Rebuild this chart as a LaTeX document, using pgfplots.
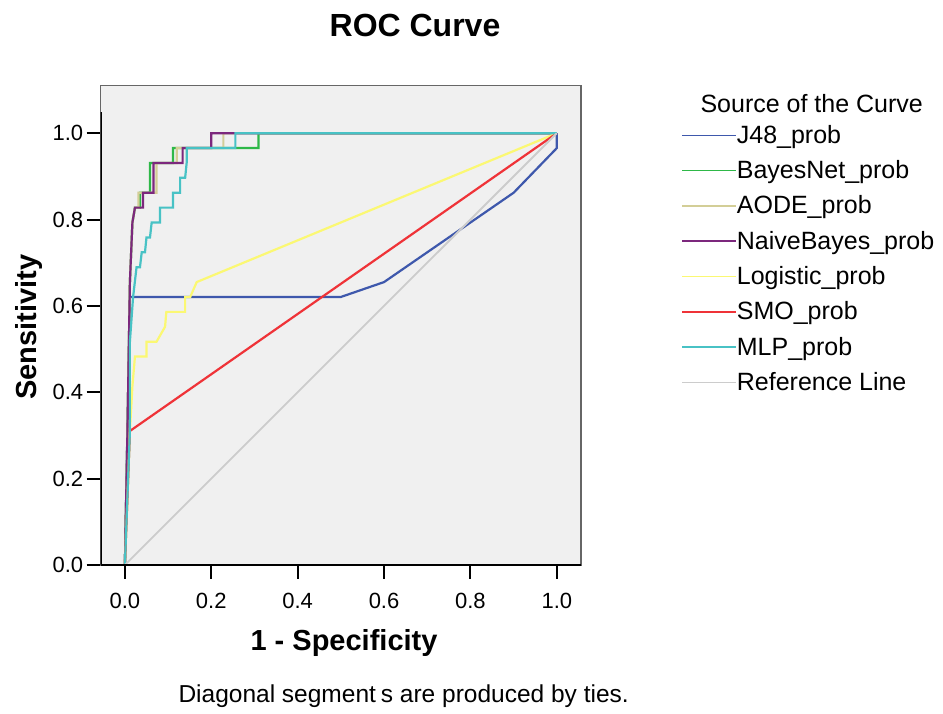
\documentclass[border=0pt]{standalone}
\usepackage{fontspec}
\usepackage{pgfplots}
\pgfplotsset{compat=1.18}
\setmainfont{Liberation Sans}

% SPSS default series colours
\definecolor{cJ}{HTML}{3E58AC}
\definecolor{cBN}{HTML}{2EB848}
\definecolor{cAO}{HTML}{D3CE97}
\definecolor{cNB}{HTML}{7C287D}
\definecolor{cLo}{HTML}{FBF873}
\definecolor{cSM}{HTML}{EF3338}
\definecolor{cML}{HTML}{48C2C5}
\definecolor{cRef}{HTML}{CCCCCC}
\definecolor{bgc}{HTML}{F0F0F0}
\definecolor{framec}{HTML}{666666}

\begin{document}
\begin{tikzpicture}
\begin{axis}[
  at={(100.7pt,148pt)}, anchor=south west,
  scale only axis, width=480.3pt, height=479.3pt,
  xmin=-0.056, xmax=1.056, ymin=0, ymax=1.11,
  axis background/.style={fill=bgc},
  axis line style={draw=framec, line width=1.6pt},
  xtick={0,0.2,0.4,0.6,0.8,1}, ytick={0,0.2,0.4,0.6,0.8,1},
  xtick pos=left, ytick pos=left,
  tick align=outside, major tick length=14pt,
  tick style={black, line width=2pt},
  tick label style={font=\fontsize{22}{22}\selectfont},
  xticklabel style={yshift=-11pt, /pgf/number format/.cd, fixed, fixed zerofill, precision=1, assume math mode=true},
  yticklabel style={/pgf/number format/.cd, fixed, fixed zerofill, precision=1, assume math mode=true},
  xlabel={1 - Specificity},
  xlabel style={at={(axis description cs:0.5066,-0.1794)}, anchor=base,
                font=\bfseries\fontsize{29}{29}\selectfont},
  ylabel={Sensitivity},
  ylabel style={at={(axis description cs:-0.1330,0.4966)}, anchor=base,
                font=\bfseries\fontsize{29}{29}\selectfont},
  legend style={at={(1.2090,0.9215)}, anchor=north west, draw=none, fill=none,
                inner xsep=0pt, inner ysep=0pt, outer sep=0pt,
                row sep=11.3pt, column sep=0pt,
                nodes={inner sep=0pt, text height=20pt, text depth=4pt,
                       font=\fontsize{25}{25}\selectfont}},
  legend cell align=left,
  legend image code/.code={\draw[#1, line width=1.5pt] (0pt,0pt) -- (54pt,0pt);},
  every axis plot/.append style={line width=2.2pt, line join=miter},
]

% J48
\addplot[cJ] coordinates {(0,0) (0.0116,0.6207) (0.5,0.6207) (0.6,0.6552) (0.9,0.8621) (1,0.9655) (1,1)};
\addlegendentry{J48\_prob}

% BayesNet
\addplot[cBN] coordinates {(0,0) (0.0058,0.30) (0.0116,0.6552) (0.0174,0.7931) (0.0233,0.8276)
  (0.0349,0.8276) (0.0349,0.8621) (0.0581,0.8621) (0.0581,0.9310) (0.1116,0.9310)
  (0.1116,0.9655) (0.3093,0.9655) (0.3093,1) (1,1)};
\addlegendentry{BayesNet\_prob}

% AODE
\addplot[cAO] coordinates {(0,0) (0.0058,0.30) (0.0116,0.6552) (0.0174,0.7931) (0.0233,0.8276)
  (0.0314,0.8276) (0.0314,0.8621) (0.0733,0.8621) (0.0733,0.9310) (0.1200,0.9310)
  (0.1200,0.9655) (0.2280,0.9655) (0.2280,1) (1,1)};
\addlegendentry{AODE\_prob}

% NaiveBayes
\addplot[cNB] coordinates {(0,0) (0.0058,0.30) (0.0116,0.6552) (0.0174,0.7931) (0.0233,0.8276)
  (0.0419,0.8276) (0.0419,0.8621) (0.0663,0.8621) (0.0663,0.9310) (0.1337,0.9310)
  (0.1337,0.9655) (0.2000,0.9655) (0.2000,1) (1,1)};
\addlegendentry{NaiveBayes\_prob}

% Logistic
\addplot[cLo] coordinates {(0,0) (0.0058,0.15) (0.0116,0.31) (0.0174,0.4138) (0.0233,0.4828)
  (0.0500,0.4828) (0.0500,0.5172) (0.0733,0.5172) (0.0930,0.5517) (0.0960,0.5862)
  (0.1395,0.5862) (0.1395,0.6207) (0.1512,0.6207) (0.1663,0.6552) (1,1)};
\addlegendentry{Logistic\_prob}

% SMO
\addplot[cSM] coordinates {(0,0) (0.0116,0.3103) (1,1)};
\addlegendentry{SMO\_prob}

% MLP
\addplot[cML] coordinates {(0,0) (0.0116,0.3103) (0.0116,0.5172) (0.0190,0.6207) (0.0270,0.6897)
  (0.0349,0.6897) (0.0390,0.7241) (0.0465,0.7241) (0.0500,0.7586) (0.0581,0.7586)
  (0.0620,0.7931) (0.0814,0.7931) (0.0814,0.8276) (0.1116,0.8276) (0.1116,0.8621)
  (0.1279,0.8621) (0.1279,0.8966) (0.1395,0.8966) (0.1430,0.9310) (0.1430,0.9655)
  (0.2558,0.9655) (0.2558,1) (1,1)};
\addlegendentry{MLP\_prob}

% Reference diagonal
\addplot[cRef, line width=1.8pt] coordinates {(0,0) (1,1)};
\addlegendentry{Reference Line}

% black axis lines over the grey frame
\draw[black, line width=2.6pt] (rel axis cs:0,0) -- (rel axis cs:0,0.945);
\draw[black, line width=2.2pt] (rel axis cs:0,0) -- (rel axis cs:1,0);
\end{axis}

\node[anchor=base, font=\bfseries\fontsize{32}{32}\selectfont] at (415pt,676pt) {ROC Curve};
\node[anchor=base west, font=\fontsize{25}{25}\selectfont] at (697pt,600pt) {Source of the Curve};
\node[anchor=base west, font=\fontsize{24.5}{24.5}\selectfont] at (175pt,11pt)
  {Diagonal segment\kern0.2em s are produced by ties.};

\pgfresetboundingbox
\path (0pt,0pt) rectangle (943pt,713pt);
\end{tikzpicture}
\end{document}
